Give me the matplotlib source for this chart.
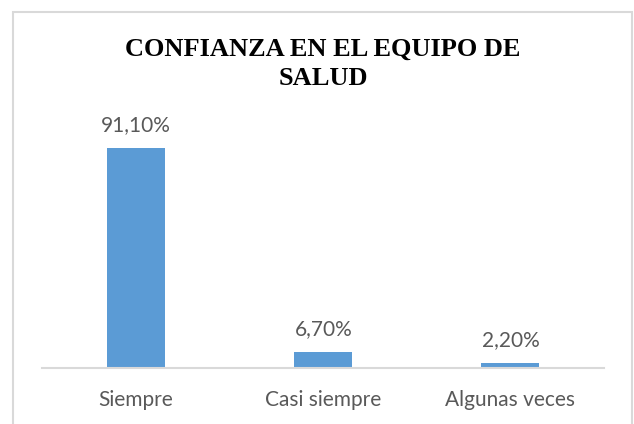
import matplotlib
matplotlib.use("Agg")
import matplotlib.pyplot as plt
from matplotlib.patches import Rectangle

categories = ["Siempre", "Casi siempre", "Algunas veces"]
values = [91.1, 6.7, 2.2]
labels = ["91,10%", "6,70%", "2,20%"]
title_lines = ["CONFIANZA EN EL EQUIPO DE", "SALUD"]

W, H = 634, 424
fig = plt.figure(figsize=(W / 100, H / 100), dpi=100)
fig.patch.set_facecolor("white")

# outer chart border
fig.add_artist(Rectangle((13 / W, -0.02), (632 - 13) / W, 1 - 11.5 / H + 0.02,
                         transform=fig.transFigure, fill=False,
                         edgecolor="#D9D9D9", linewidth=1.5))

ax = fig.add_axes([42.5 / W, (H - 368) / H, 561.5 / W, 241.5 / H])
x = list(range(len(categories)))
ax.bar(x, values, width=0.31, color="#5B9BD5", zorder=2)
ax.set_xlim(-0.5, len(categories) - 0.5)
ax.set_ylim(0, 100)

for s in ["top", "right", "left"]:
    ax.spines[s].set_visible(False)
ax.spines["bottom"].set_color("#D9D9D9")
ax.spines["bottom"].set_linewidth(1.5)
ax.set_yticks([])
ax.set_xticks(x)
ax.set_xticklabels(categories, fontfamily="Lato", fontsize=15, color="#595959")
ax.tick_params(axis="x", length=0, pad=15.5)

for xi, v, lab in zip(x, values, labels):
    ax.annotate(lab, (xi, v), xytext=(0, 12.2), textcoords="offset points",
                ha="center", va="baseline", fontfamily="Lato",
                fontsize=15, color="#595959")

fig.text(323 / W, 1 - 56 / H, title_lines[0], ha="center", va="baseline",
         fontfamily="Liberation Serif", fontweight="bold", fontsize=19, color="black")
fig.text(323 / W, 1 - 85 / H, title_lines[1], ha="center", va="baseline",
         fontfamily="Liberation Serif", fontweight="bold", fontsize=19, color="black")

fig.savefig("out.png", dpi=100, facecolor="white")
